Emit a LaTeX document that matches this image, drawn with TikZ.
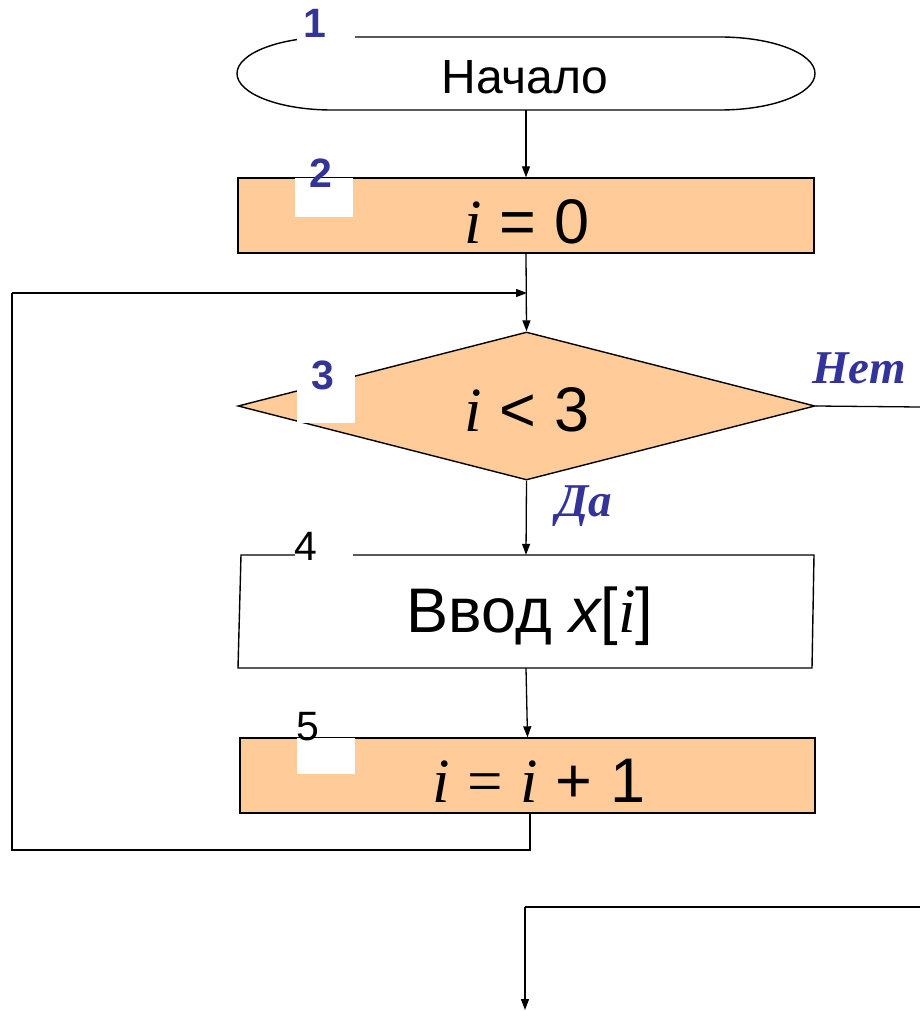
\documentclass[tikz,border=0pt]{standalone}
\usepackage{fontspec}
\setmainfont{Liberation Sans}
\newfontfamily\tnr{Liberation Serif}
\usetikzlibrary{arrows.meta,shapes.geometric}
\definecolor{peach}{HTML}{FFCC99}
\definecolor{lblue}{HTML}{333399}
\newcommand\vi{{\tnr\itshape i}}
\begin{document}
\begin{tikzpicture}[x=1pt,y=-1pt,
  box/.style={draw, line width=1.4pt, inner sep=0, minimum width=576pt, minimum height=75pt},
  proc/.style={box, fill=peach},
  conn/.style={line width=1.3pt},
  arr/.style={conn, -{Triangle[length=11pt,width=8pt]}},
  num/.style={font=\fontsize{41}{41}\selectfont\bfseries, text=lblue, inner sep=0},
  numk/.style={font=\fontsize{41}{41}\selectfont, inner sep=0},
  big/.style={font=\fontsize{63}{63}\selectfont, inner sep=0},
  answer/.style={font=\fontsize{47}{47}\selectfont\tnr\bfseries\itshape, text=lblue, inner sep=0},
  blank/.style={fill=white, draw=none}]
\useasboundingbox (0,0) rectangle (920,1011);

% block 1: terminal
\draw[line width=1.4pt] (332,37) -- (720,37)
  arc[start angle=-90,end angle=90,x radius=95,y radius=36.5] -- (332,110)
  arc[start angle=90,end angle=270,x radius=95,y radius=36.5] -- cycle;
\node[minimum width=578pt, minimum height=73pt, inner sep=0] (b1) at (526,73.5) {};
\node[font=\fontsize{48}{48}\selectfont, inner sep=0, anchor=base] (t1) at (525,94) {Начало};
\fill[blank] (297,5) rectangle (355,45);
\node[num] (n1) at (315,23) {1};

% block 2
\node[proc] (b2) at (526,215.5) {};
\node[big, anchor=base] (t2) at (527,243) {\vi\ = 0};
\fill[blank] (295,178) rectangle (353,217);
\node[num] (n2) at (321,173) {2};

% block 3: decision
\node[diamond, draw, fill=peach, line width=1.4pt, inner sep=0,
      minimum width=577pt, minimum height=148pt] (d3) at (526.5,406) {};
\node[big, anchor=base] (t3) at (527,431) {\vi\ < 3};
\fill[blank] (297,350) rectangle (355,423);
\node[num] (n3) at (323,375) {3};
\node[answer] (net) at (859,368) {Нет};
\node[answer] (da) at (584,506) {Да};

% block 4: input
\node[inner sep=0, minimum width=576pt, minimum height=113pt] (b4) at (526,611.5) {};
\draw[line width=1.4pt] (241,555) -- (814,555) -- (812,668) -- (238,668) -- cycle;
\node[big, anchor=base] (t4) at (530,632) {Ввод {\itshape x}[\vi]};
\fill[blank] (295,540) rectangle (353,560);
\node[numk] (n4) at (306,546) {4};

% block 5
\node[proc] (b5) at (527.5,775.5) [minimum width=575pt] {};
\node[big, anchor=base] (t5) at (539,802) {{\tnr\itshape i} {\tnr =} {\tnr\itshape i} + 1};
\fill[blank] (297,738) rectangle (355,774);
\node[numk] (n5) at (308,727) {5};

% connector coordinates
\coordinate (join) at (527,293);
\coordinate (l1) at (530,850);
\coordinate (l2) at (12,850);
\coordinate (l3) at (12,293);
\coordinate (netEnd) at (920,407);
\coordinate (e1) at (920,907);
\coordinate (e2) at (525,907);
\coordinate (e3) at (525,1010);

% connectors
\draw[arr] (b1.south) -- (b2.north);
\draw[arr] (b2.south) -- (d3.north);
\draw[arr] (d3.south) -- (b4.north);
\draw[arr] (b4.south) -- (b5.south |- b5.north);
\draw[conn] (b5.south -| l1) -- (l1) -- (l2) -- (l3);
\draw[arr] (l3) -- (join);
\draw[conn] (d3.east) -- (netEnd);
\draw[conn] (e1) -- (e2);
\draw[arr] (e2) -- (e3);
\end{tikzpicture}
\end{document}
